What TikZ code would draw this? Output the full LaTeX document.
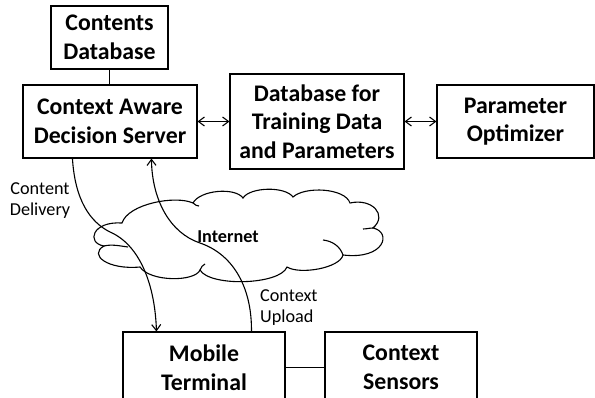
\documentclass[tikz,border=0pt]{standalone}
\usepackage{fontspec}
\setmainfont{Carlito}
\usetikzlibrary{arrows.meta,calc}
\begin{document}
\begin{tikzpicture}[x=1pt,y=-1pt,
  box/.style={draw, line width=1.1pt, font=\fontsize{23.8}{28.5}\selectfont\bfseries, align=center, inner sep=0pt},
  lbl/.style={font=\fontsize{18.2}{21}\selectfont, inner sep=0pt},
  conn/.style={line width=1.1pt},
  tip/.tip={Straight Barb[length=6pt,width=9pt]},
  arr/.style={conn, -tip},
  biarr/.style={conn, tip-tip}]
\useasboundingbox (0,0) rectangle (595,398);
\clip (0,0) rectangle (595,398);
% boxes
\node[box, minimum width=117pt, minimum height=63pt] (CD) at (109.5,37.5) {Contents\\Database};
\node[box, minimum width=174pt, minimum height=73pt] (CADS) at (110,121.5) {Context Aware\\Decision Server};
\node[box, minimum width=174pt, minimum height=95pt] (DB) at (317,121.5) {Database for\\Training Data\\and Parameters};
\node[box, minimum width=157pt, minimum height=73pt] (PO) at (515.5,121.5) {Parameter\\Optimizer};
\node[box, minimum width=162pt, minimum height=71pt] (MT) at (204,367.5) {Mobile\\Terminal};
\node[box, minimum width=152pt, minimum height=71pt] (CS) at (401,367.5) {Context\\Sensors};
% plain connectors
\draw[conn] (CD.south) -- (CD.south |- CADS.north);
\draw[biarr] (CADS.east) -- (DB.west);
\draw[biarr] (DB.east) -- (PO.west);
\draw[conn] (MT.east) -- (CS.west);
% cloud
\draw[conn] (122,223) .. controls (128,204) and (175,195) .. (193,203)
  .. controls (200,190) and (235,187) .. (243,198)
  .. controls (250,187) and (285,186) .. (293,197)
  .. controls (305,186) and (345,188) .. (350,203)
  .. controls (372,198) and (388,215) .. (373,228)
  .. controls (392,232) and (385,260) .. (343,255)
  .. controls (340,268) and (300,275) .. (287,267)
  .. controls (280,285) and (210,287) .. (200,270)
  .. controls (195,282) and (150,282) .. (140,267)
  .. controls (108,270) and (88,255) .. (104,246)
  .. controls (86,243) and (92,221) .. (122,223) -- cycle;
\draw[conn] (104,246) .. controls (112,244) and (120,246) .. (128,247);
\draw[conn] (373,228) .. controls (370,228) and (366,229) .. (363,229);
\draw[conn] (343,255) .. controls (340,246) and (332,241) .. (323,240);
\draw[conn] (193,203) .. controls (195,205) and (197,206) .. (199,206);
\draw[conn] (200,270) .. controls (201,267) and (203,265) .. (205,264);
\node[lbl] (inet) at (228,237) {\bfseries Internet};
% curved arrows
\coordinate (cdS) at ($(CADS.south west)+(50,0)$);
\coordinate (cuE) at ($(CADS.south west)+(129,0)$);
\coordinate (cdE) at ($(MT.north west)+(34,0)$);
\coordinate (cuS) at ($(MT.north west)+(129,0)$);
\draw[arr] (cdS) .. controls (75,200) and (90,222) .. (110,232)
  .. controls (140,245) and (155,285) .. (cdE);
\draw[arr] (cuS) .. controls (252,290) and (235,255) .. (200,243)
  .. controls (170,233) and (152,200) .. (cuE);
\node[lbl, align=center] (cdl) at (40,201) {Content\\Delivery};
\node[lbl, align=left, anchor=west] (cul) at (260,308) {Context\\Upload};
\end{tikzpicture}
\end{document}
